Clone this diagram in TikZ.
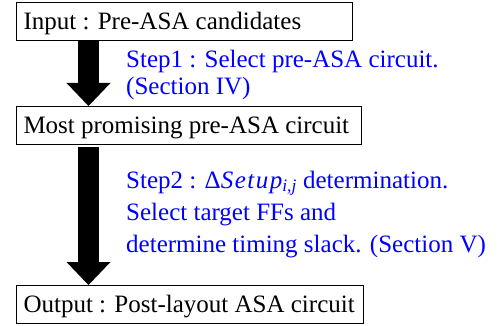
\documentclass[tikz,border=0pt]{standalone}
\usepackage{fontspec}
\setmainfont{Liberation Serif}
\usetikzlibrary{calc,arrows.meta}
\newcommand{\lbox}[2]{\makebox[#1][l]{#2}}
\begin{document}
\begin{tikzpicture}[x=1pt,y=1pt,
  stagebox/.style={draw=black,line width=1pt,anchor=north west,inner xsep=7pt,inner ysep=0pt,
    text height=27pt,text depth=11pt,font=\fontsize{25}{30}\selectfont},
  steptext/.style={anchor=base west,inner sep=0pt,text=blue,font=\fontsize{25}{30}\selectfont},
  bigarrow/.style={line width=21pt,-{Triangle[width=44pt,length=23pt,line width=0pt]}}]
\useasboundingbox (0,0) rectangle (498,-326);
\node[stagebox] (in) at (16,-2) {\lbox{322pt}{Input : Pre-ASA candidates}};
\node[stagebox] (mid) at (16,-106) {\lbox{331pt}{Most promising pre-ASA circuit}};
\node[stagebox] (out) at (16,-285) {\lbox{333pt}{Output : Post-layout ASA circuit}};
\draw[bigarrow] ($(in.south west)+(72.5,0)$) -- ($(mid.north west)+(72.5,0)$);
\draw[bigarrow] ($(mid.south west)+(72.5,-2)$) -- ($(out.north west)+(72.5,0)$);
\node[steptext] (s1a) at (126,-68) {Step1 : Select pre-ASA circuit.};
\node[steptext] (s1b) at (126,-95) {(Section IV)};
\node[steptext] (s2a) at (126,-188) {Step2 : Δ{\itshape\addfontfeature{LetterSpace=6}Setup}\textsubscript{\itshape i,j} determination.};
\node[steptext] (s2b) at (126,-220) {Select target FFs and};
\node[steptext] (s2c) at (126,-252) {determine timing slack. (Section V)};
\end{tikzpicture}
\end{document}
